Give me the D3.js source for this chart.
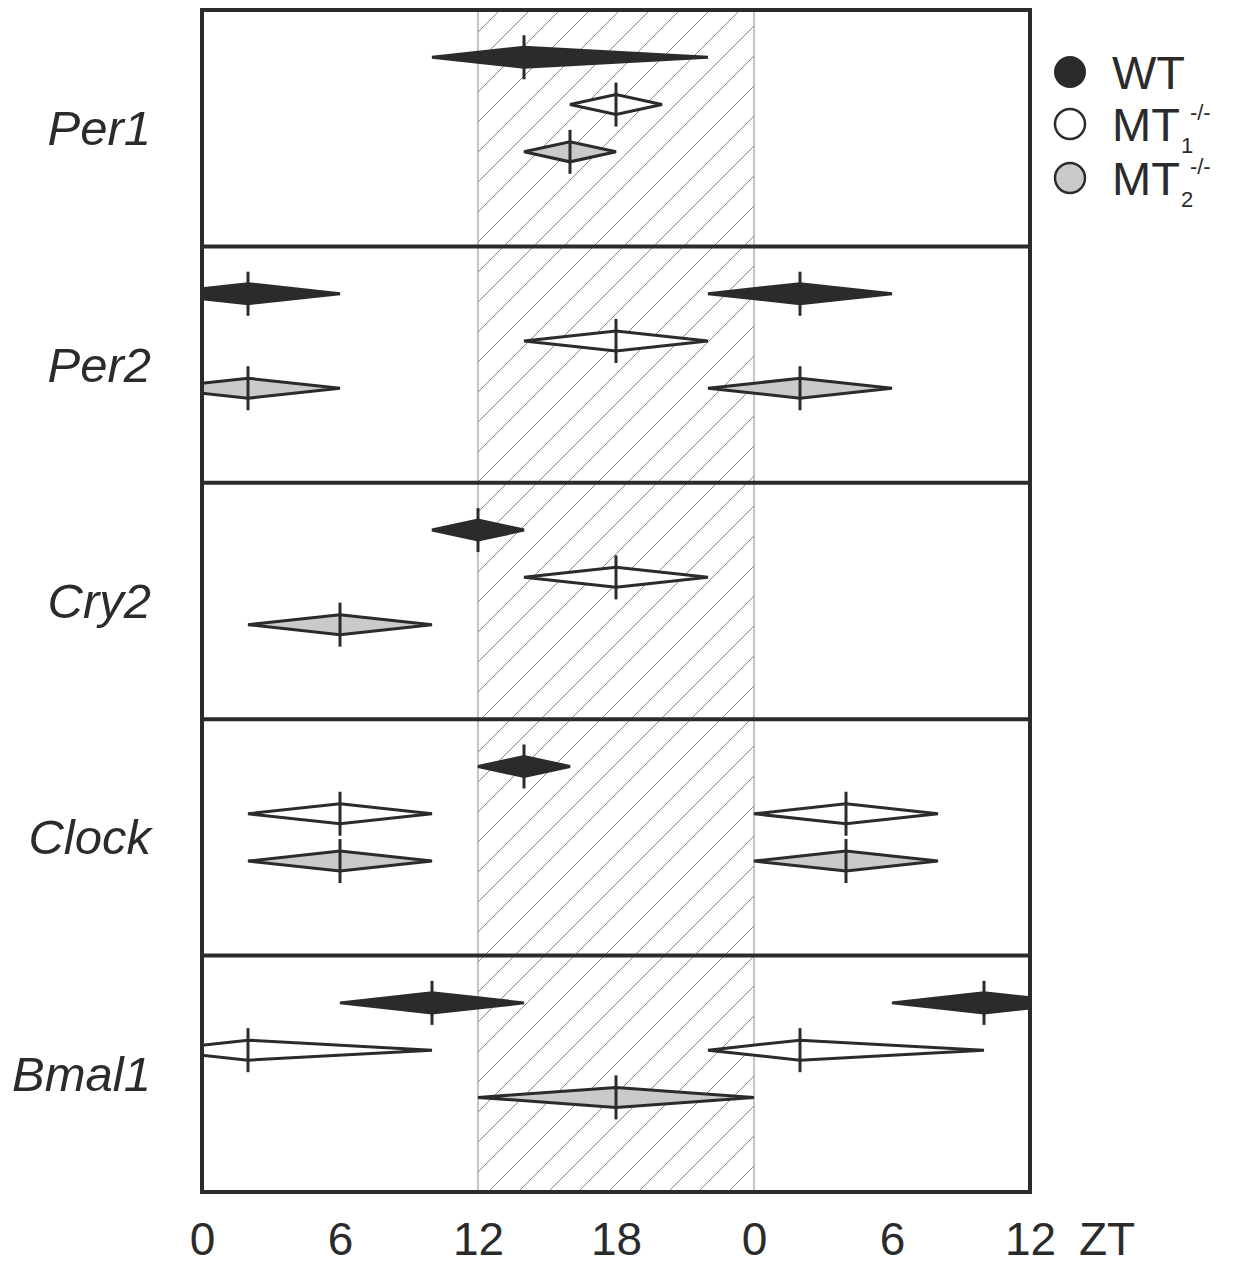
<!DOCTYPE html>
<html>
<head>
<meta charset="utf-8">
<script src="https://cdn.jsdelivr.net/npm/d3@7"></script>
<style>
  html, body { margin: 0; padding: 0; background: #fff; }
  svg { display: block; font-family: "Liberation Sans", Arial, sans-serif; }
</style>
</head>
<body>
<svg id="chart" width="1235" height="1265"></svg>
<script>
// ---- data ----
const genes = ["Per1", "Per2", "Cry2", "Clock", "Bmal1"];
const genotypes = ["WT", "MT1", "MT2"];
const tickValues = [0, 6, 12, 18, 24, 30, 36];
const tickLabels = ["0", "6", "12", "18", "0", "6", "12"];
const darkPeriod = [12, 24];

// one entry per drawn diamond: onset, peak (acrophase), offset in ZT hours
const entryGene  = ["Per1","Per1","Per1","Per2","Per2","Per2","Per2","Per2","Cry2","Cry2","Cry2","Clock","Clock","Clock","Clock","Clock","Bmal1","Bmal1","Bmal1","Bmal1","Bmal1"];
const entryGeno  = ["WT","MT1","MT2","WT","WT","MT1","MT2","MT2","WT","MT1","MT2","WT","MT1","MT1","MT2","MT2","WT","WT","MT1","MT1","MT2"];
const entryOnset = [10, 16, 14, -2, 22, 14, -2, 22, 10, 14, 2, 12, 2, 24, 2, 24, 6, 30, -2, 22, 12];
const entryPeak  = [14, 18, 16,  2, 26, 18,  2, 26, 12, 18, 6, 14, 6, 28, 6, 28, 10, 34, 2, 26, 18];
const entryOff   = [22, 20, 18,  6, 30, 22,  6, 30, 14, 22, 10, 16, 10, 32, 10, 32, 14, 38, 10, 34, 24];

const legendLabels = [
  { main: "WT", sub: "", sup: "" },
  { main: "MT", sub: "1", sup: "-/-" },
  { main: "MT", sub: "2", sup: "-/-" }
];

// ---- styles ----
const ink = "#2b2b2b";
const fills = { WT: ink, MT1: "#ffffff", MT2: "#c8cacb" };

const svg = d3.select("#chart");
const pLeft = 202, pRight = 1030, pTop = 10, pBottom = 1192;

const x = d3.scaleLinear().domain([0, 36]).range([pLeft, pRight]);
const yPanel = d3.scaleBand().domain(genes).range([pTop, pBottom]);
const yRow = d3.scalePoint().domain(genotypes).range([0.2, 0.6]);

// hatch pattern
const defs = svg.append("defs");
const pat = defs.append("pattern")
  .attr("id", "hatch").attr("patternUnits", "userSpaceOnUse")
  .attr("width", 30).attr("height", 30);
pat.append("path")
  .attr("d", "M0,30 L30,0 M-5,5 L5,-5 M25,35 L35,25")
  .attr("stroke", "#7a7a7a").attr("stroke-width", 0.9).attr("fill", "none");

defs.append("clipPath").attr("id", "plotclip")
  .append("rect").attr("x", pLeft).attr("y", pTop)
  .attr("width", pRight - pLeft).attr("height", pBottom - pTop);

// dark period
svg.append("rect")
  .attr("x", x(darkPeriod[0])).attr("y", pTop)
  .attr("width", x(darkPeriod[1]) - x(darkPeriod[0]))
  .attr("height", pBottom - pTop)
  .attr("fill", "url(#hatch)")
  .attr("stroke", "#8a8a8a").attr("stroke-width", 1);

// diamonds
const hh = 10, th = 22;
const entries = entryGene.map((g, i) => ({
  gene: g, geno: entryGeno[i], on: entryOnset[i], pk: entryPeak[i], off: entryOff[i]
}));
const marks = svg.append("g").attr("clip-path", "url(#plotclip)");
entries.forEach(d => {
  const cy = yPanel(d.gene) + yRow(d.geno) * yPanel.bandwidth();
  const g = marks.append("g");
  g.append("path")
    .attr("d", `M${x(d.on)},${cy} L${x(d.pk)},${cy - hh} L${x(d.off)},${cy} L${x(d.pk)},${cy + hh} Z`)
    .attr("fill", fills[d.geno])
    .attr("stroke", ink).attr("stroke-width", 3).attr("stroke-linejoin", "miter");
  g.append("line")
    .attr("x1", x(d.pk)).attr("x2", x(d.pk))
    .attr("y1", cy - th).attr("y2", cy + th)
    .attr("stroke", ink).attr("stroke-width", 3);
});

// panel separators and frame
svg.selectAll("line.sep").data(genes.slice(1)).enter().append("line")
  .attr("class", "sep")
  .attr("x1", pLeft).attr("x2", pRight)
  .attr("y1", d => yPanel(d)).attr("y2", d => yPanel(d))
  .attr("stroke", ink).attr("stroke-width", 4);
svg.append("rect")
  .attr("x", pLeft).attr("y", pTop)
  .attr("width", pRight - pLeft).attr("height", pBottom - pTop)
  .attr("fill", "none").attr("stroke", ink).attr("stroke-width", 4);

// gene labels
svg.selectAll("text.gene").data(genes).enter().append("text")
  .attr("class", "gene")
  .attr("x", 151)
  .attr("y", d => yPanel(d) + yPanel.bandwidth() / 2 + 17)
  .attr("text-anchor", "end")
  .attr("font-size", 49).attr("font-style", "italic")
  .attr("fill", ink)
  .text(d => d);

// x axis
const axis = d3.axisBottom(x).tickValues(tickValues)
  .tickFormat((d, i) => tickLabels[i]).tickSize(0);
const ax = svg.append("g").attr("transform", `translate(0,${pBottom})`).call(axis);
ax.select(".domain").remove();
ax.selectAll("text")
  .attr("y", 63).attr("dy", 0)
  .attr("font-size", 46).attr("fill", ink)
  .attr("font-family", "Liberation Sans, Arial, sans-serif");
svg.append("text")
  .attr("x", 1107).attr("y", pBottom + 63)
  .attr("text-anchor", "middle")
  .attr("font-size", 46).attr("fill", ink)
  .text("ZT");

// legend
const legY = [72, 124, 178];
const lg = svg.append("g");
genotypes.forEach((g, i) => {
  lg.append("circle")
    .attr("cx", 1070).attr("cy", legY[i]).attr("r", i === 0 ? 16 : 15)
    .attr("fill", fills[g]).attr("stroke", ink).attr("stroke-width", i === 0 ? 0 : 2.5);
  const t = lg.append("text")
    .attr("x", 1112).attr("y", legY[i] + 17)
    .attr("font-size", 47).attr("fill", ink)
    .text(legendLabels[i].main);
  if (legendLabels[i].sub) {
    const w = t.node().getComputedTextLength();
    lg.append("text")
      .attr("x", 1112 + w + 1).attr("y", legY[i] + 29)
      .attr("font-size", 22).attr("fill", ink)
      .text(legendLabels[i].sub);
    lg.append("text")
      .attr("x", 1112 + w + 10).attr("y", legY[i] - 4)
      .attr("font-size", 22).attr("fill", ink)
      .text(legendLabels[i].sup);
  }
});
</script>
</body>
</html>
